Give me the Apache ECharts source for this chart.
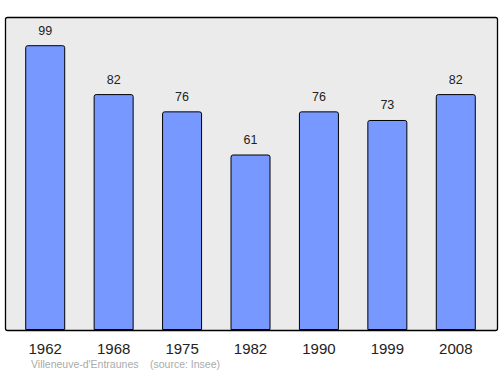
<!DOCTYPE html>
<html><head><meta charset="utf-8">
<script src="https://cdn.jsdelivr.net/npm/echarts@6/dist/echarts.min.js"></script>
<style>html,body{margin:0;padding:0;background:#fff}#c{width:500px;height:374px}</style>
</head><body><div id="c"></div>
<script>
const categories = ['1962','1968','1975','1982','1990','1999','2008'];
const values = [99, 82, 76, 61, 76, 73, 82];
const footerPlace = "Villeneuve-d'Entraunes";
const footerSource = "(source: Insee)";

const chart = echarts.init(document.getElementById('c'), null, {renderer:'svg'});
chart.setOption({
  animation:false,
  graphic:[
    {type:'rect', shape:{x:5.5,y:17.5,width:492,height:313, r:2}, style:{fill:'#ebebeb', stroke:'#000', lineWidth:1.3}, z:-10},
    {type:'text', left:31, top:358, style:{text:footerPlace, fill:'#aaaaaa', font:'10.5px "Liberation Sans", Arial, sans-serif'}},
    {type:'text', left:150, top:358, style:{text:footerSource, fill:'#aaaaaa', font:'10.5px "Liberation Sans", Arial, sans-serif'}}
  ],
  grid:{left:11, right:10, top:17, bottom:44},
  xAxis:{type:'category', data:categories, axisLine:{show:false}, axisTick:{show:false},
    axisLabel:{color:'#222', fontSize:15, fontFamily:'"Liberation Sans", Arial, sans-serif', margin:11}},
  yAxis:{type:'value', min:0, max:108.8, show:false, splitLine:{show:false}},
  series:[{type:'bar', data:values, barWidth:40,
    itemStyle:{color:'#7799ff', borderColor:'#000', borderWidth:1, borderRadius:[2,2,0,0]},
    label:{show:true, position:'top', distance:8, color:'#222', fontSize:12.5, fontFamily:'"Liberation Sans", Arial, sans-serif'}
  }]
});
</script></body></html>
